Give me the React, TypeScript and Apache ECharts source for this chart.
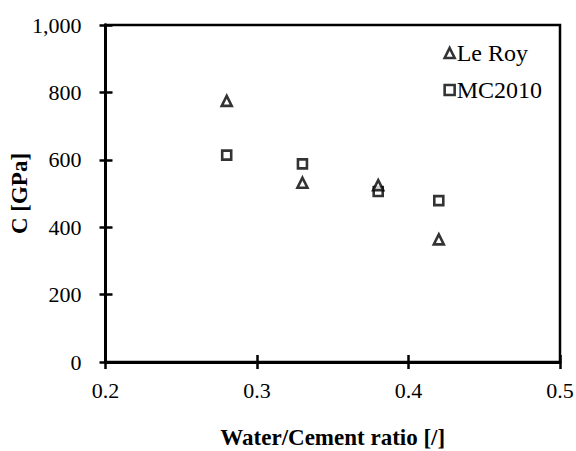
import React, { useEffect, useRef } from "react";
import * as echarts from "echarts";

const ratios = [0.28, 0.33, 0.38, 0.42];
const leRoy = [775, 532, 525, 364];
const mc2010 = [614, 588, 506, 479];
const xTicks = [0.2, 0.3, 0.4, 0.5];
const seriesNames = ["Le Roy", "MC2010"];

const FONT = "Liberation Serif";

export default function App() {
  const ref = useRef<HTMLDivElement>(null);
  useEffect(() => {
    document.body.style.margin = "0";
    if (!ref.current) return;
    const chart = echarts.init(ref.current, undefined, { renderer: "svg" });
    const marker = () => ({ color: "#fff", borderColor: "#000", borderWidth: 2.6 });
    const tick = () => ({ color: "#000", width: 2.5 });
    const line = () => ({ color: "#000", width: 2.8 });
    chart.setOption({
      animation: false,
      backgroundColor: "#fff",
      textStyle: { fontFamily: FONT },
      grid: {
        left: 105.5,
        right: 16,
        top: 25,
        bottom: 89,
        containLabel: false,
        outerBoundsMode: "none",
        show: true,
        borderColor: "#000",
        borderWidth: 2.5,
      },
      legend: {
        orient: "vertical",
        right: 29,
        top: 36,
        itemWidth: 10,
        itemHeight: 10,
        itemGap: 13,
        textStyle: { fontFamily: FONT, fontSize: 24, color: "#000", padding: [0, 0, 0, -3] },
        data: [
          { name: seriesNames[0], icon: "triangle", itemStyle: marker() },
          { name: seriesNames[1], icon: "rect", itemStyle: marker() },
        ],
      },
      xAxis: [
        {
          type: "value",
          min: 0.2,
          max: 0.5,
          interval: 0.1,
          axisLine: { show: true, lineStyle: line() },
          splitLine: { show: false },
          axisTick: { show: true, inside: false, length: 7, lineStyle: tick() },
          axisLabel: {
            show: true,
            margin: 17,
            fontSize: 22,
            color: "#000",
            fontFamily: FONT,
            formatter: (v: number) => {
              const t = xTicks.find((x) => Math.abs(x - v) < 1e-6);
              return t !== undefined ? t.toFixed(1) : "";
            },
          },
          name: "Water/Cement ratio [/]",
          nameLocation: "middle",
          nameGap: 64,
          nameMoveOverlap: false,
          nameTextStyle: { fontFamily: FONT, fontSize: 23, fontWeight: "bold", color: "#000" },
        },
        {
          type: "value",
          position: "bottom",
          min: 0.2,
          max: 0.5,
          interval: 0.1,
          axisLine: { show: true, lineStyle: line() },
          axisTick: { show: true, inside: true, length: 7, lineStyle: tick() },
          axisLabel: { show: false },
          splitLine: { show: false },
        },
      ],
      yAxis: [
        {
          type: "value",
          min: 0,
          max: 1000,
          interval: 200,
          axisLine: { show: true, lineStyle: line() },
          splitLine: { show: false },
          axisTick: { show: true, inside: false, length: 6, lineStyle: tick() },
          axisLabel: {
            show: true,
            margin: 24,
            fontSize: 22,
            color: "#000",
            fontFamily: FONT,
            formatter: (v: number) => v.toLocaleString("en-US"),
          },
          name: "C [GPa]",
          nameLocation: "middle",
          nameGap: 75,
          nameMoveOverlap: false,
          nameTextStyle: { fontFamily: FONT, fontSize: 23, fontWeight: "bold", color: "#000" },
        },
        {
          type: "value",
          position: "left",
          min: 0,
          max: 1000,
          interval: 200,
          axisLine: { show: true, lineStyle: line() },
          axisTick: { show: true, inside: true, length: 7, lineStyle: tick() },
          axisLabel: { show: false },
          splitLine: { show: false },
        },
      ],
      series: [
        {
          name: seriesNames[1],
          type: "scatter",
          symbol: "rect",
          symbolSize: 9,
          itemStyle: marker(),
          data: ratios.map((x, i) => [x, mc2010[i]]),
        },
        {
          name: seriesNames[0],
          type: "scatter",
          symbol: "triangle",
          symbolSize: 10,
          itemStyle: marker(),
          data: ratios.map((x, i) => [x, leRoy[i]]),
        },
      ],
    });
    return () => chart.dispose();
  }, []);
  return <div ref={ref} style={{ width: 576, height: 451 }} />;
}
